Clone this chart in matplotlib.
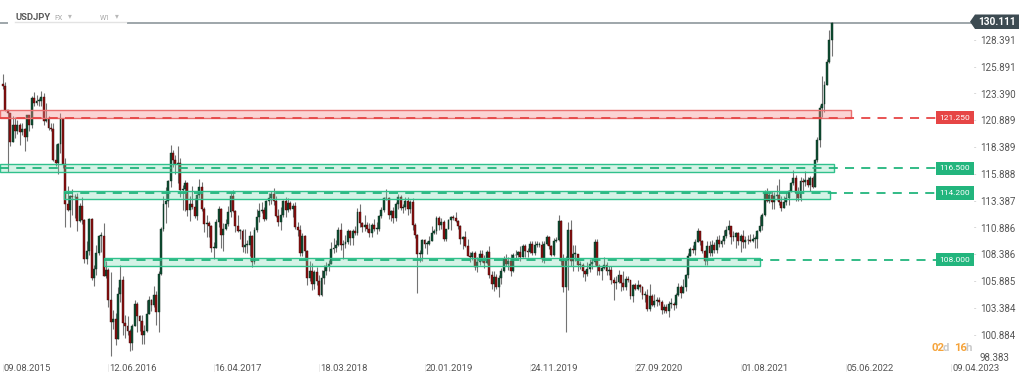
import numpy as np
import matplotlib.pyplot as plt
from matplotlib.patches import Rectangle, Polygon
from matplotlib.transforms import blended_transform_factory

plt.rcParams['font.family'] = ['Roboto', 'DejaVu Sans']

# USDJPY weekly, week of 09.08.2015 .. week of 24.04.2022 (feed has no bars for May 2017)
first_open = 124.4
close = [
    # 2015
    124.2, 122.0, 121.7, 119.0, 120.6, 120.0, 120.6, 119.9, 120.2, 119.4, 121.5, 120.6, 123.1, 122.6,
    122.8, 122.8, 123.2, 120.9, 121.1, 120.3, 120.2,
    # 2016
    117.3, 117.0, 118.8, 121.1, 116.9, 113.2, 112.6, 113.9, 113.8, 113.8, 111.6, 113.0, 111.7, 108.1,
    108.8, 111.8, 106.3, 107.1, 108.6, 110.2, 110.2, 106.5, 107.0, 104.2, 102.2, 102.5, 100.6, 104.8,
    106.1, 102.1, 101.8, 101.3, 100.2, 101.8, 103.9, 102.7, 102.3, 101.0, 101.3, 102.9, 104.2, 103.8,
    104.7, 103.1, 106.7, 110.9, 113.2, 113.5, 115.3, 117.9, 117.3, 116.9,
    # 2017
    117.0, 114.5, 114.6, 115.1, 112.6, 113.2, 112.9, 112.1, 114.0, 114.8, 112.7, 111.3, 111.4, 111.1,
    109.1, 109.1, 111.5, 112.7, 110.3, 110.9, 111.3, 112.4, 113.9, 112.5, 111.1, 110.7, 110.7, 109.2,
    109.4, 109.4, 110.2, 107.8, 110.8, 112.0, 112.5, 112.6, 111.8, 113.5, 113.7, 114.1, 113.5, 112.1,
    111.5, 112.2, 113.5, 112.6, 113.3, 112.7, 113.0,
    # 2018
    111.0, 110.8, 108.6, 110.2, 108.8, 106.3, 106.9, 105.7, 106.8, 106.0, 104.7, 106.3, 106.9, 107.4,
    107.6, 109.0, 109.1, 109.4, 110.8, 109.4, 109.5, 109.6, 110.7, 110.0, 110.7, 110.5, 112.4, 111.4,
    111.0, 111.2, 110.9, 110.5, 111.2, 110.9, 110.9, 112.1, 112.6, 113.7, 113.7, 112.2, 112.5, 111.9,
    113.2, 113.8, 112.8, 112.9, 113.5, 112.7, 113.4, 111.2, 110.3, 108.5,
    # 2019
    108.5, 109.8, 109.5, 109.5, 109.7, 110.5, 110.7, 111.9, 111.2, 111.5, 109.9, 110.9, 111.7, 112.0,
    111.9, 111.6, 111.1, 109.9, 110.1, 109.3, 108.3, 108.2, 108.6, 107.3, 107.8, 108.5, 107.9, 107.7,
    108.7, 106.6, 105.7, 106.4, 105.4, 106.3, 106.9, 108.1, 107.6, 107.9, 106.9, 108.4, 108.4, 108.7,
    108.2, 109.3, 108.8, 108.7, 109.5, 108.6, 109.4, 109.4, 109.4, 108.1,
    # 2020
    109.5, 110.1, 109.3, 108.4, 109.7, 109.8, 111.6, 107.9, 105.4, 108.0, 110.8, 107.9, 108.5, 108.5,
    107.5, 107.5, 106.9, 106.7, 107.1, 107.6, 107.8, 109.6, 107.4, 106.9, 107.2, 107.5, 106.9, 107.0,
    106.1, 105.8, 105.9, 106.6, 105.8, 105.4, 106.2, 106.1, 104.6, 105.6, 105.3, 105.6, 105.4, 104.7,
    104.7, 103.4, 104.6, 103.8, 104.1, 104.2, 104.0, 103.3, 103.6, 103.2,
    # 2021
    103.9, 103.9, 103.8, 104.7, 105.4, 104.9, 105.4, 106.6, 108.3, 109.0, 108.9, 109.6, 110.7, 109.7,
    108.8, 107.9, 109.3, 108.6, 109.4, 108.9, 109.8, 109.5, 109.7, 110.2, 110.8, 111.1, 110.1, 110.1,
    110.5, 109.7, 110.2, 109.6, 109.8, 109.8, 109.7, 109.9, 109.9, 110.7, 111.1, 112.2, 114.2, 113.5,
    114.0, 113.4, 113.9, 114.0, 113.4, 112.8, 113.4, 113.7, 114.4, 115.1,
    # 2022
    115.6, 114.2, 113.7, 115.3, 115.2, 115.4, 115.0, 115.6, 114.8, 117.3, 119.2, 122.1, 122.5, 124.3,
    126.4, 128.5, 130.111,
]
high = [
    # 2015
    125.3, 124.6, 121.9, 121.7, 121.4, 121.3, 121.0, 120.7, 120.7, 120.3, 121.5, 121.5, 123.3, 123.6,
    123.4, 123.1, 123.7, 123.5, 122.6, 121.4, 120.7,
    # 2016
    120.7, 118.8, 118.9, 121.7, 121.0, 117.5, 114.9, 114.0, 114.6, 114.1, 114.2, 113.3, 113.8, 111.8,
    109.7, 111.9, 111.9, 107.5, 109.4, 110.3, 110.6, 111.4, 107.9, 107.2, 106.8, 103.3, 103.0, 105.4,
    107.5, 106.5, 102.8, 102.7, 101.5, 102.0, 104.2, 104.0, 102.8, 102.8, 101.9, 104.2, 104.6, 104.3,
    105.5, 105.1, 106.9, 111.0, 113.9, 114.8, 115.4, 118.7, 118.2, 117.8,
    # 2017
    118.6, 117.5, 115.0, 115.4, 115.2, 113.9, 114.9, 113.7, 114.1, 115.5, 115.2, 112.9, 112.2, 111.6,
    111.2, 109.6, 111.8, 113.0, 112.8, 111.4, 111.8, 113.0, 114.2, 114.5, 112.6, 112.2, 110.9, 110.9,
    110.9, 109.8, 110.7, 110.3, 111.0, 112.7, 113.3, 113.4, 112.9, 113.6, 114.2, 114.4, 114.7, 113.9,
    112.7, 112.9, 113.6, 113.8, 113.7, 113.5, 113.3,
    # 2018
    113.4, 111.5, 111.2, 110.5, 110.3, 108.9, 107.9, 107.7, 107.0, 107.3, 106.6, 107.0, 107.5, 107.8,
    108.0, 109.6, 110.0, 109.8, 111.0, 111.4, 109.8, 110.3, 110.9, 110.8, 110.9, 111.1, 112.8, 113.2,
    111.5, 112.2, 111.5, 111.4, 111.4, 111.8, 111.5, 112.2, 112.9, 113.8, 114.6, 113.8, 112.6, 112.9,
    113.4, 114.1, 114.0, 113.2, 113.8, 113.8, 113.6, 113.7, 111.4, 110.4,
    # 2019
    108.9, 109.9, 109.9, 109.7, 110.2, 111.1, 110.9, 112.1, 112.1, 111.9, 111.7, 110.9, 111.8, 112.1,
    112.2, 112.4, 111.7, 111.2, 110.2, 110.7, 109.9, 108.7, 108.8, 108.8, 108.2, 108.9, 108.9, 108.4,
    108.9, 109.3, 106.9, 106.9, 106.7, 106.6, 107.2, 108.3, 108.5, 108.2, 108.5, 108.6, 108.9, 108.8,
    109.3, 109.5, 109.5, 109.1, 109.7, 109.7, 109.7, 109.7, 109.6, 109.7,
    # 2020
    109.7, 110.3, 110.2, 109.4, 110.0, 110.1, 112.2, 111.7, 108.5, 108.3, 111.5, 111.7, 109.4, 109.4,
    108.4, 107.9, 107.7, 107.0, 107.8, 108.1, 108.1, 109.9, 109.9, 107.6, 107.4, 108.2, 107.8, 107.4,
    107.4, 106.4, 106.5, 107.0, 106.6, 106.9, 106.5, 106.5, 106.1, 105.7, 105.8, 106.1, 105.7, 105.5,
    105.1, 105.3, 105.7, 104.8, 104.8, 104.5, 104.5, 104.2, 103.9, 103.9,
    # 2021
    104.1, 104.4, 104.0, 104.9, 105.8, 105.6, 106.2, 106.7, 108.6, 109.2, 109.4, 109.9, 110.97, 110.5,
    109.8, 108.9, 109.7, 109.7, 109.8, 109.6, 110.2, 110.3, 109.9, 110.8, 111.1, 111.7, 111.1, 110.7,
    110.6, 110.6, 110.4, 110.8, 110.2, 110.3, 110.4, 110.4, 110.2, 110.8, 112.1, 112.3, 114.5, 114.7,
    114.3, 114.4, 114.3, 114.97, 115.5, 113.9, 113.9, 114.3, 114.5, 115.2,
    # 2022
    116.35, 115.9, 114.8, 115.7, 115.6, 116.3, 115.7, 115.8, 115.8, 117.4, 119.4, 122.4, 125.1, 124.7,
    126.7, 129.4, 130.2,
]
low = [
    # 2015
    123.9, 121.9, 116.2, 118.6, 119.3, 119.3, 119.7, 118.7, 119.6, 118.1, 119.1, 120.0, 120.3, 122.3,
    122.4, 122.3, 122.3, 120.6, 120.8, 120.1, 120.0,
    # 2016
    117.2, 116.7, 116.0, 117.9, 116.5, 111.0, 112.5, 111.0, 112.2, 111.9, 110.7, 111.5, 111.3, 107.7,
    107.6, 108.4, 106.1, 105.5, 106.6, 108.4, 108.7, 106.5, 106.3, 103.6, 99.0, 101.5, 100.0, 100.6,
    104.0, 101.0, 100.7, 101.0, 99.5, 99.6, 101.9, 101.2, 101.3, 100.1, 100.1, 101.2, 102.9, 103.2,
    103.6, 101.9, 101.2, 106.6, 110.7, 111.4, 112.9, 114.8, 116.6, 116.0,
    # 2017
    115.1, 113.8, 112.6, 112.5, 112.1, 111.6, 112.7, 111.9, 111.7, 113.7, 112.5, 110.6, 110.1, 110.1,
    108.7, 108.1, 109.2, 111.0, 109.1, 108.8, 110.8, 111.1, 112.0, 112.4, 110.6, 110.6, 109.9, 108.7,
    108.6, 108.6, 108.3, 107.3, 107.6, 110.6, 111.5, 112.3, 111.6, 111.7, 113.1, 113.2, 113.1, 112.0,
    111.1, 110.8, 112.0, 112.0, 112.4, 112.6, 112.0,
    # 2018
    110.9, 110.2, 108.3, 108.3, 108.0, 105.6, 106.0, 105.2, 105.3, 105.6, 104.6, 104.6, 105.7, 106.6,
    106.9, 107.6, 108.6, 108.7, 109.3, 108.9, 108.1, 109.1, 109.5, 109.4, 109.4, 110.3, 110.3, 111.0,
    110.6, 110.7, 110.6, 110.1, 110.1, 110.7, 110.4, 110.7, 111.9, 112.4, 113.6, 111.8, 111.6, 111.4,
    111.6, 112.7, 112.6, 112.3, 112.6, 112.2, 112.3, 110.8, 110.0, 104.9,
    # 2019
    107.8, 107.9, 109.1, 108.5, 109.4, 109.8, 110.4, 110.4, 110.8, 110.9, 109.7, 109.7, 110.9, 110.8,
    111.7, 111.5, 110.9, 109.5, 109.0, 109.2, 108.3, 107.8, 108.0, 107.0, 106.8, 107.5, 107.8, 107.2,
    107.6, 106.3, 105.3, 105.1, 105.3, 104.5, 105.7, 106.8, 107.4, 107.0, 106.5, 106.8, 108.0, 108.2,
    107.9, 108.2, 108.2, 108.2, 108.6, 108.4, 108.4, 109.2, 109.2, 107.8,
    # 2020
    107.7, 109.4, 109.0, 108.3, 108.3, 109.6, 109.7, 107.5, 105.0, 101.2, 105.2, 107.4, 106.9, 107.9,
    106.9, 107.1, 106.4, 106.0, 106.5, 106.8, 107.1, 107.5, 106.6, 106.6, 106.1, 107.1, 106.6, 106.6,
    105.7, 104.2, 105.3, 105.8, 105.1, 105.2, 105.2, 105.9, 104.3, 104.0, 105.2, 105.2, 105.0, 104.3,
    104.0, 103.2, 103.2, 103.7, 103.6, 103.7, 103.8, 102.9, 103.0, 103.0,
    # 2021
    102.6, 103.5, 103.3, 103.5, 104.6, 104.4, 104.9, 105.1, 106.3, 108.3, 108.6, 108.4, 109.6, 109.4,
    108.6, 107.5, 107.5, 108.3, 108.3, 108.6, 108.6, 109.2, 109.2, 109.5, 110.0, 110.4, 109.5, 109.7,
    109.1, 109.4, 108.7, 109.1, 109.1, 109.5, 109.6, 109.6, 109.1, 109.1, 110.6, 110.8, 112.1, 113.4,
    113.3, 112.7, 112.7, 113.6, 113.1, 112.5, 112.9, 113.1, 113.1, 114.3,
    # 2022
    115.0, 113.5, 113.5, 113.5, 114.2, 114.9, 114.8, 114.4, 114.7, 114.8, 117.1, 118.5, 121.3, 121.8,
    124.3, 126.3, 127.0,
]

# horizontal zones: (low, high) and the level marked on the right
zone_red = (121.25, 122.0)
zones_green = [(116.15, 116.9), (113.68, 114.38), (107.43, 108.12)]
levels = [121.25, 116.5, 114.2, 108.0]
level_labels = ['121.250', '116.500', '114.200', '108.000']

ytick_values = [128.391, 125.891, 123.390, 120.889, 118.389, 115.888, 113.387,
                110.886, 108.386, 105.885, 103.384, 100.884, 98.383]
xtick_labels = ['09.08.2015', '12.06.2016', '16.04.2017', '18.03.2018', '20.01.2019',
                '24.11.2019', '27.09.2020', '01.08.2021', '05.06.2022', '09.04.2023']
xtick_step = 44

W, H = 1024, 381
PX_BAR = 2.395          # pixels per weekly bar
X0 = 3                  # pixel of the first bar
AX_W, AX_H, AX_B = 975, 363, 18


def bar_at(px):
    return (px - X0) / PX_BAR


close = np.array(close)
high = np.array(high)
low = np.array(low)
opn = np.concatenate([[first_open], close[:-1]])   # weekly FX open = previous close
high = np.maximum(high, np.maximum(opn, close))
low = np.minimum(low, np.minimum(opn, close))
x = np.arange(len(close))

fig = plt.figure(figsize=(W / 100, H / 100), dpi=100)
fig.patch.set_facecolor('white')
ax = fig.add_axes([0, AX_B / H, AX_W / W, AX_H / H])
ax.set_xlim(bar_at(0), bar_at(AX_W))
ax.set_ylim(98.354, 132.216)
ax.axis('off')

# last price line
ax.axhline(close[-1], color='#8d979c', lw=1.2, zorder=1)

# candles
up = close >= opn
ax.vlines(x, low, high, color='#737373', lw=0.8, zorder=2)
body_lo = np.minimum(opn, close)
body_h = np.maximum(np.abs(close - opn), 0.07)
ax.bar(x[up], body_h[up], bottom=body_lo[up], width=0.8, color='#0e4f33',
       edgecolor='#0a2a1c', lw=0.3, zorder=3)
ax.bar(x[~up], body_h[~up], bottom=body_lo[~up], width=0.8, color='#8c1010',
       edgecolor='#3a0808', lw=0.3, zorder=3)

# zones
ax.add_patch(Rectangle((bar_at(0), zone_red[0]), bar_at(851) - bar_at(0), zone_red[1] - zone_red[0],
                       fc=(0.96, 0.55, 0.55, 0.38), ec='#ea6f6f', lw=1.0, zorder=4))
green_x = [(0, 834), (64, 830), (104, 760)]
for (lo, hi), (p0, p1) in zip(zones_green, green_x):
    ax.add_patch(Rectangle((bar_at(p0), lo), bar_at(p1) - bar_at(p0), hi - lo,
                           fc=(0.45, 0.85, 0.68, 0.3), ec='#30c18c', lw=1.0, zorder=4))

line_start = [0, 0, 64, 104]
bt = blended_transform_factory(ax.transAxes, ax.transData)
for lev, lab, p0 in zip(levels, level_labels, line_start):
    col = '#e64545' if lev == levels[0] else '#22b57d'
    ax.hlines(lev, bar_at(p0), bar_at(936), colors=col, lw=1.3,
              linestyles=(0, (5, 4)), zorder=5)
    ax.text(955 / AX_W, lev, lab, transform=bt, ha='center', va='center', fontsize=6,
            color='white', zorder=6,
            bbox=dict(boxstyle='square,pad=0.45', fc=col, ec='none'))

# price axis on the right
for v in ytick_values:
    if v == ytick_values[-1]:
        ax.text(980 / AX_W, v, f'{v:.3f}', transform=bt, ha='left', va='bottom',
                fontsize=7, color='#555555', clip_on=False)
    else:
        ax.text(980 / AX_W, v, f'{v:.3f}', transform=bt, ha='left', va='center',
                fontsize=7, color='#555555', clip_on=False)
        ax.text(974 / AX_W, v, '-', transform=bt, ha='left', va='center',
                fontsize=6, color='#bbbbbb', clip_on=False)

# time axis
bx = blended_transform_factory(ax.transData, ax.transAxes)
for i, lab in enumerate(xtick_labels):
    xi = i * xtick_step
    ax.text(xi + 0.3, -5.5 / AX_H, lab, transform=bx, ha='left', va='center',
            fontsize=6.8, color='#555555', clip_on=False)
    ax.plot([xi, xi], [-1 / AX_H, -8 / AX_H], transform=bx, color='#e2e2e2',
            lw=0.5, clip_on=False)

# last price tag
tag = Polygon([[970, H - 21.7], [975, H - 14.5], [1019, H - 14.5], [1019, H - 29], [975, H - 29]],
              closed=True, transform=None, fc='#3d4b52', ec='none', zorder=10)
fig.patches.append(tag)
fig.text(997 / W, 1 - 21.9 / H, f'{close[-1]:.3f}', ha='center', va='center',
         fontsize=7.3, fontweight='bold', color='white', zorder=11)

# header
fig.patches.append(Rectangle((8 / W, 1 - 26 / H), 119 / W, 20 / H, transform=fig.transFigure,
                             fc='white', ec='none', zorder=8))
fig.lines.append(plt.Line2D([15 / W, 126 / W], [1 - 21.5 / H, 1 - 21.5 / H],
                            transform=fig.transFigure, color='#e3e3e3', lw=1, zorder=9))
fig.text(15 / W, 1 - 17.5 / H, 'USDJPY', ha='left', va='center', fontsize=6.8,
         fontweight='bold', color='#5a5a5a', zorder=9)
fig.text(54 / W, 1 - 18 / H, 'FX', ha='left', va='center', fontsize=5, color='#a8a8a8', zorder=9)
fig.text(68 / W, 1 - 16.5 / H, '▾', ha='left', va='center', fontsize=5.5, color='#b8b8b8', zorder=9)
fig.text(100 / W, 1 - 18 / H, 'W1', ha='left', va='center', fontsize=5, color='#a8a8a8', zorder=9)
fig.text(115 / W, 1 - 16.5 / H, '▾', ha='left', va='center', fontsize=5.5, color='#b8b8b8', zorder=9)

# bar countdown
for txt, px, col in [('02', 932, '#f5a33a'), ('d', 943, '#c9c9c9'),
                     ('16', 954, '#f5a33a'), ('h', 965.5, '#c9c9c9')]:
    fig.text(px / W, 1 - 348 / H, txt, ha='left', va='center', fontsize=8.2,
             fontweight='bold', color=col, zorder=9)

fig.savefig('out.png', dpi=100, facecolor='white')
